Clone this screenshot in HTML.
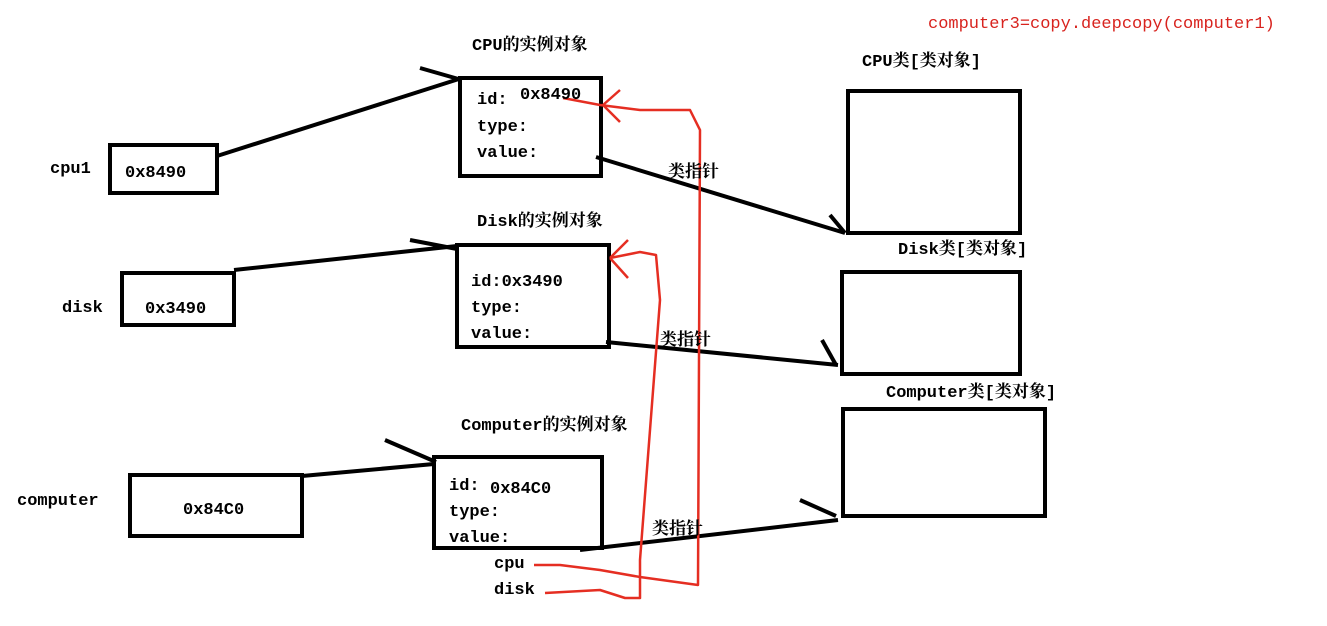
<!DOCTYPE html>
<html><head><meta charset="utf-8"><style>
body{margin:0;background:#fff}
svg text{font-family:"Liberation Mono","Noto Serif CJK SC",monospace;font-size:17px;fill:#000;font-weight:bold}
</style></head><body>
<svg width="1327" height="621" xmlns="http://www.w3.org/2000/svg">
<g fill="none" stroke="#000" stroke-width="4">
<rect x="110" y="145" width="107" height="48"/>
<rect x="122" y="273" width="112" height="52"/>
<rect x="130" y="475" width="172" height="61"/>
<rect x="460" y="78" width="141" height="98"/>
<rect x="457" y="245" width="152" height="102"/>
<rect x="434" y="457" width="168" height="91"/>
<rect x="848" y="91" width="172" height="142"/>
<rect x="842" y="272" width="178" height="102"/>
<rect x="843" y="409" width="202" height="107"/>
<polyline points="217,156 462,78"/><polyline points="420,68 462,80"/>
<polyline points="234,270 457,246"/><polyline points="410,240 457,249"/>
<polyline points="302,476 434,464"/><polyline points="385,440 436,462"/>
<polyline points="596,157 845,233"/><polyline points="830,215 845,233"/>
<polyline points="606,342 838,365"/><polyline points="822,340 836,365"/>
<polyline points="580,550 838,520"/><polyline points="800,500 836,516"/>
</g>
<g fill="none" stroke="#e52e22" stroke-width="2.5" stroke-linejoin="round">
<path d="M563,98 L600,105 L640,110 L690,110 L700,130 L698,585 L640,577 L600,570 L560,565 L534,565"/>
<path d="M603,105 L620,90 M603,105 L620,122"/>
<path d="M545,593 L600,590 L625,598 L640,598 L640,560 L660,300 L656,255 L640,252 L610,258"/>
<path d="M610,258 L628,240 M610,258 L628,278"/>
</g>
<text x="50" y="173">cpu1</text>
<text x="125" y="177">0x8490</text>
<text x="62" y="312">disk</text>
<text x="145" y="313">0x3490</text>
<text x="17" y="505">computer</text>
<text x="183" y="514">0x84C0</text>
<text x="472" y="50">CPU的实例对象</text>
<text x="477" y="104">id:</text><text x="520" y="99">0x8490</text>
<text x="477" y="131">type:</text><text x="477" y="157">value:</text>
<text x="477" y="226">Disk的实例对象</text>
<text x="471" y="286">id:0x3490</text><text x="471" y="312">type:</text><text x="471" y="338">value:</text>
<text x="461" y="430">Computer的实例对象</text>
<text x="449" y="490">id:</text><text x="490" y="493">0x84C0</text>
<text x="449" y="516">type:</text><text x="449" y="542">value:</text>
<text x="494" y="568">cpu</text><text x="494" y="594">disk</text>
<text x="668" y="177">类指针</text>
<text x="660" y="345">类指针</text>
<text x="652" y="534">类指针</text>
<text x="862" y="66">CPU类[类对象]</text>
<text x="898" y="254">Disk类[类对象]</text>
<text x="886" y="397">Computer类[类对象]</text>
<text x="928" y="28" style="fill:#d8231e;font-weight:normal" font-size="18">computer3=copy.deepcopy(computer1)</text>
</svg>
</body></html>
